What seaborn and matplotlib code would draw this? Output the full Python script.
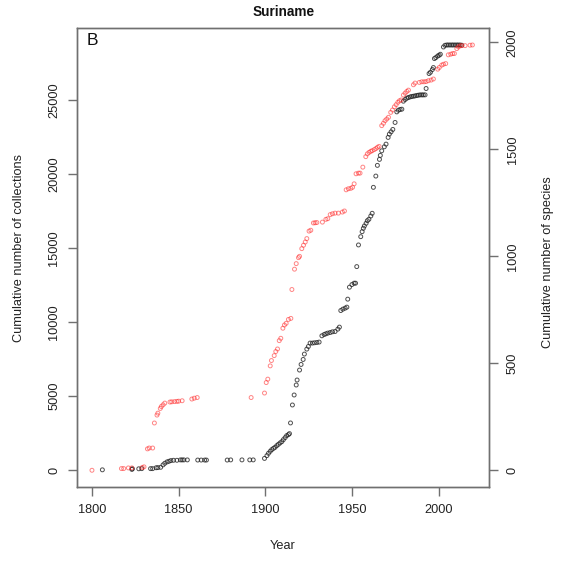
import numpy as np
import pandas as pd
import matplotlib
matplotlib.use("Agg")
import matplotlib.pyplot as plt
import seaborn as sns

# cumulative collections (black, left axis)
coll_year = [1806.0, 1823.0, 1823.3, 1827.0, 1828.7, 1833.8, 1835.0, 1837.0, 1838.0, 1839.6,
             1841.0, 1842.0, 1843.3, 1844.4, 1845.5, 1847.0, 1849.0, 1851.0, 1852.0, 1853.0,
             1855.0, 1861.0, 1863.0, 1865.0, 1866.0, 1878.0, 1880.0, 1886.5, 1891.0, 1893.0,
             1899.5, 1900.9, 1901.8, 1902.8, 1903.7, 1904.7, 1905.6, 1906.6, 1907.5, 1908.5,
             1909.5, 1910.4, 1911.4, 1912.3, 1913.3, 1913.9, 1914.5, 1915.6, 1916.6, 1917.8,
             1918.3, 1919.7, 1920.6, 1921.8, 1922.5, 1923.9, 1924.8, 1925.8, 1927.1, 1928.3,
             1929.7, 1931.0, 1932.6, 1933.9, 1934.9, 1936.0, 1937.4, 1938.7, 1940.2, 1941.8,
             1942.7, 1943.5, 1944.7, 1946.0, 1947.0, 1947.5, 1948.5, 1949.9, 1951.2, 1952.0,
             1952.7, 1953.7, 1955.0, 1955.8, 1956.5, 1957.1, 1958.1, 1958.8, 1959.7, 1960.8,
             1961.6, 1962.3, 1963.7, 1964.6, 1965.8, 1966.3, 1967.1, 1968.6, 1969.6, 1970.8,
             1971.5, 1972.5, 1973.5, 1974.8, 1975.8, 1976.7, 1977.7, 1978.7, 1979.6, 1980.6,
             1981.6, 1982.5, 1983.5, 1984.4, 1985.4, 1986.3, 1987.3, 1988.2, 1989.2, 1990.2,
             1991.1, 1992.1, 1992.7, 1994.4, 1995.2, 1996.3, 1996.9, 1997.5, 1998.3, 1999.4,
             2000.2, 2000.9, 2002.7, 2003.6, 2004.6, 2005.5, 2006.5, 2007.5, 2008.4, 2009.4,
             2010.4, 2011.3, 2012.3, 2013.3]
collections = [30, 60, 100, 100, 110, 110, 110, 170, 180, 200,
               364, 472, 566, 606, 654, 674, 674, 700, 700, 700,
               700, 690, 690, 690, 690, 690, 700, 700, 700, 700,
               800, 990, 1146, 1280, 1395, 1482, 1550, 1664, 1752, 1846,
               1934, 2069, 2204, 2338, 2406, 2473, 3194, 4407, 5081, 5755,
               6092, 6765, 7143, 7480, 7843, 8180, 8356, 8585, 8585, 8605,
               8625, 8652, 9077, 9164, 9212, 9259, 9299, 9346, 9367, 9528,
               9663, 10782, 10876, 10943, 11011, 11550, 12358, 12534, 12628, 12628,
               13747, 15209, 15768, 16105, 16334, 16489, 16671, 16846, 16941, 17163,
               17345, 19097, 19858, 20580, 20984, 21253, 21563, 21833, 22015, 22467,
               22689, 22844, 23005, 23477, 24191, 24306, 24353, 24373, 24912, 25027,
               25115, 25162, 25202, 25229, 25249, 25270, 25296, 25317, 25337, 25337,
               25337, 25340, 25768, 26779, 26866, 27049, 27183, 27790, 27857, 27965,
               28012, 28080, 28571, 28686, 28706, 28706, 28706, 28706, 28706, 28706,
               28706, 28706, 28706, 28690]

# cumulative species (red, right axis)
sp_year = [1800.0, 1817.0, 1818.3, 1821.0, 1823.0, 1829.0, 1830.0, 1832.0, 1833.0, 1835.0,
           1836.0, 1837.5, 1838.0, 1839.4, 1840.0, 1841.0, 1842.0, 1845.0, 1846.0, 1847.6,
           1849.0, 1850.0, 1852.0, 1857.6, 1859.0, 1860.7, 1891.8, 1899.5, 1900.5, 1901.4,
           1902.8, 1903.5, 1905.1, 1906.0, 1907.0, 1908.0, 1908.9, 1910.1, 1911.0, 1912.0,
           1913.3, 1914.7, 1915.3, 1916.8, 1917.8, 1919.1, 1919.7, 1921.0, 1922.0, 1923.0,
           1923.9, 1925.2, 1926.2, 1927.7, 1928.7, 1929.7, 1932.9, 1934.9, 1936.0, 1937.4,
           1938.7, 1940.2, 1942.1, 1944.4, 1945.6, 1946.6, 1947.9, 1949.3, 1950.3, 1951.2,
           1952.3, 1953.7, 1954.6, 1956.2, 1957.9, 1958.8, 1959.8, 1960.8, 1961.6, 1962.8,
           1963.8, 1964.7, 1965.6, 1967.1, 1968.1, 1969.0, 1970.0, 1971.0, 1972.3, 1973.3,
           1974.4, 1975.4, 1976.4, 1977.3, 1978.3, 1979.6, 1980.6, 1981.6, 1982.5, 1985.4,
           1986.3, 1988.8, 1990.2, 1991.5, 1992.7, 1994.0, 1995.6, 1996.9, 1999.4, 2000.3,
           2001.7, 2002.7, 2004.0, 2005.5, 2006.9, 2008.0, 2009.0, 2010.4, 2011.3, 2012.3,
           2013.3, 2015.2, 2018.0, 2019.4]
species = [0, 8, 8, 11, 11, 13, 16, 100, 104, 104,
           221, 258, 267, 289, 298, 306, 314, 319, 320, 321,
           322, 323, 325, 333, 337, 340, 340, 361, 410, 426,
           488, 513, 536, 555, 567, 606, 617, 664, 679, 687,
           705, 710, 845, 940, 966, 994, 1000, 1036, 1052, 1067,
           1083, 1118, 1122, 1156, 1157, 1158, 1160, 1173, 1176, 1195,
           1199, 1202, 1202, 1207, 1212, 1311, 1316, 1318, 1323, 1339,
           1386, 1389, 1389, 1417, 1466, 1479, 1486, 1491, 1494, 1499,
           1504, 1510, 1514, 1611, 1622, 1634, 1642, 1650, 1673, 1684,
           1699, 1709, 1720, 1727, 1731, 1754, 1763, 1771, 1777, 1802,
           1810, 1813, 1816, 1816, 1817, 1821, 1824, 1829, 1875, 1883,
           1894, 1898, 1901, 1942, 1945, 1948, 1948, 1971, 1979, 1984,
           1985, 1985, 1987, 1988]

coll_df = pd.DataFrame({"Year": coll_year, "collections": collections})
sp_df = pd.DataFrame({"Year": sp_year, "species": species})

sns.set_style("white")
plt.rcParams["font.family"] = ["Liberation Sans", "DejaVu Sans"]
plt.rcParams["xtick.bottom"] = True
plt.rcParams["ytick.left"] = True
plt.rcParams["xtick.direction"] = "out"
plt.rcParams["ytick.direction"] = "out"
fs = 9.2
frame = "#707070"

fig = plt.figure(figsize=(5.64, 5.63), dpi=100)
ax = fig.add_axes([0.136, 0.1345, 0.7305, 0.8158])

sns.scatterplot(data=coll_df, x="Year", y="collections", ax=ax, marker="o", s=8,
                facecolor="none", edgecolor="#222222", linewidth=0.7, alpha=0.8)
ax.set_xlim(1791.2, 2028.8)
ax.set_ylim(-1148, 29854)
ax.set_xticks([1800, 1850, 1900, 1950, 2000])
ax.set_yticks([0, 5000, 10000, 15000, 20000, 25000])

ax2 = ax.twinx()
sns.scatterplot(data=sp_df, x="Year", y="species", ax=ax2, marker="o", s=8,
                facecolor="none", edgecolor="#ff2020", linewidth=0.7, alpha=0.55)
ax2.set_ylim(-79.5, 2067.5)
ax2.set_yticks([0, 500, 1000, 1500, 2000])

for a in (ax, ax2):
    for sp in a.spines.values():
        sp.set_color(frame)
        sp.set_linewidth(1.0)

ax.tick_params(axis="x", which="major", bottom=True, length=6.5, width=1.0, color=frame,
               labelsize=fs, labelcolor="#222222", pad=5.5)
ax.tick_params(axis="y", which="major", left=True, labelleft=True, length=6.5, width=1.0,
               color=frame, labelsize=fs, labelcolor="#222222", pad=5.5)
ax2.tick_params(axis="y", which="major", right=True, labelright=True, left=False,
                labelleft=False, length=6.5, width=1.0, color=frame, labelsize=fs,
                labelcolor="#222222", pad=6.5)
for lbl in ax.get_yticklabels():
    lbl.set_rotation(90)
    lbl.set_va("center")
for lbl in ax2.get_yticklabels():
    lbl.set_rotation(90)
    lbl.set_va("center")

ax.set_xlabel("Year", fontsize=fs, color="#222222", va="center")
ax.xaxis.set_label_coords(0.5, -0.128)
ax.set_ylabel("Cumulative number of collections", fontsize=fs, color="#222222", va="center")
ax.yaxis.set_label_coords(-0.140, 0.52)
ax2.set_ylabel("Cumulative number of species", fontsize=fs, color="#222222", va="center")
ax2.yaxis.set_label_coords(1.144, 0.49)

fig.text(0.502, 0.978, "Suriname", ha="center", va="center", fontsize=9.8,
         fontweight="bold", color="#111111")
ax.text(0.024, 0.99, "B", transform=ax.transAxes, ha="left", va="top",
        fontsize=12.5, color="#111111")

fig.savefig("out.png", dpi=100)
